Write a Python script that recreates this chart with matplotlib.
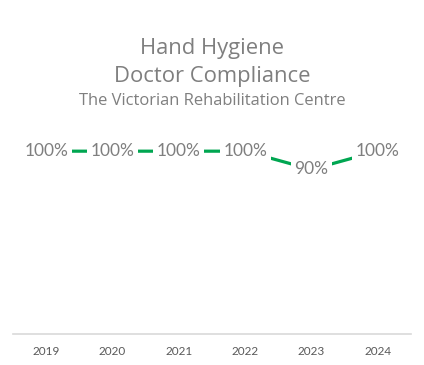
import matplotlib
matplotlib.use("Agg")
import matplotlib.pyplot as plt

years = ["2019", "2020", "2021", "2022", "2023", "2024"]
compliance = [1.00, 1.00, 1.00, 1.00, 0.90, 1.00]
labels = ["100%", "100%", "100%", "100%", "90%", "100%"]

fig = plt.figure(figsize=(4.24, 3.65), dpi=100)
ax = fig.add_axes([0.031, 0.085, 0.938, 0.611])

x = range(len(years))
ax.plot(x, compliance, color="#00a651", linewidth=2.3, solid_capstyle="butt", zorder=2)
for xi, v, t in zip(x, compliance, labels):
    ax.text(xi, v, t, ha="center", va="center", fontsize=12.5, color="#7f7f7f",
            family="Lato", zorder=3,
            bbox=dict(boxstyle="square,pad=0.2", fc="white", ec="none"))

ax.set_xlim(-0.5, len(years) - 0.5)
ax.set_ylim(0, 1.22)
ax.set_xticks(list(x))
ax.set_xticklabels(years, fontsize=8.5, color="#595959", family="Lato")
ax.tick_params(axis="x", length=0, pad=9)
ax.set_yticks([])
for s in ["top", "left", "right"]:
    ax.spines[s].set_visible(False)
ax.spines["bottom"].set_color("#d9d9d9")
ax.spines["bottom"].set_linewidth(1.2)

fig.text(0.5, 0.866, "Hand Hygiene", ha="center", va="center",
         fontsize=15.8, color="#7f7f7f", family="Open Sans")
fig.text(0.5, 0.791, "Doctor Compliance", ha="center", va="center",
         fontsize=15.8, color="#7f7f7f", family="Open Sans")
fig.text(0.5, 0.722, "The Victorian Rehabilitation Centre", ha="center", va="center",
         fontsize=11.9, color="#7f7f7f", family="Open Sans")

fig.savefig("out.png", dpi=100)
